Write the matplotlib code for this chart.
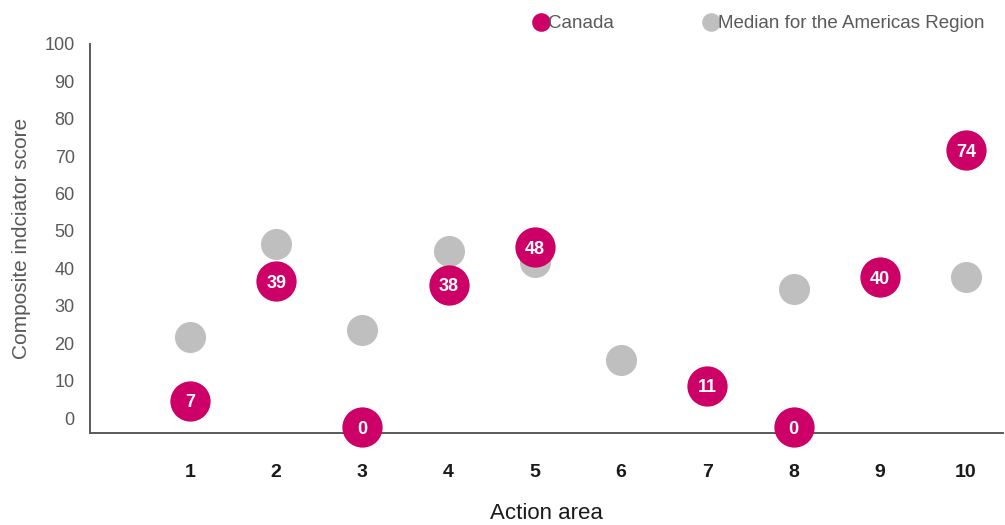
import numpy as np
import matplotlib
matplotlib.use("Agg")
import matplotlib.pyplot as plt
from matplotlib.transforms import ScaledTranslation

action_areas = [1, 2, 3, 4, 5, 6, 7, 8, 9, 10]
canada = [7, 39, 0, 38, 48, np.nan, 11, 0, 40, 74]
median_americas = [24, 49, 26, 47, 44, 18, 10, 37, 39, 40]
y_ticks = [0, 10, 20, 30, 40, 50, 60, 70, 80, 90, 100]

MAGENTA = "#CC0066"
GREY = "#BFBFBF"
TXT = "#595959"
FONT = ["Liberation Sans", "DejaVu Sans"]

fig = plt.figure(figsize=(10.05, 5.25), dpi=100)
ax = fig.add_axes([90 / 1005, (525 - 433) / 525, (1003 - 90) / 1005, (433 - 44) / 525])

ax.scatter(action_areas, median_americas, s=500, color=GREY, zorder=3, linewidths=0, clip_on=False)
ax.scatter(action_areas, canada, s=840, color=MAGENTA, zorder=4, linewidths=0, clip_on=False)
for x, v in zip(action_areas, canada):
    if not np.isnan(v):
        ax.text(x, v, f"{int(v)}", ha="center", va="center_baseline", color="white",
                fontsize=13, fontweight="bold", family=FONT, zorder=5)

ax.set_xlim(-0.16, 10.43)
ax.set_ylim(-1.6, 102.4)
ax.tick_params(axis="both", length=0)
ax.tick_params(axis="x", pad=22)
ax.tick_params(axis="y", pad=11)
ax.set_xticks(action_areas)
ax.set_xticklabels([str(a) for a in action_areas], fontsize=14, fontweight="bold",
                   family=FONT, color="#1a1a1a")
ax.set_yticks(y_ticks)
ax.set_yticklabels([str(t) for t in y_ticks], fontsize=13, family=FONT, color=TXT)
offset = ScaledTranslation(0, 9 / 100, fig.dpi_scale_trans)
for lab in ax.yaxis.get_majorticklabels():
    lab.set_transform(lab.get_transform() + offset)

for side in ["top", "right"]:
    ax.spines[side].set_visible(False)
for side in ["left", "bottom"]:
    ax.spines[side].set_color(TXT)
    ax.spines[side].set_linewidth(1.4)
    ax.spines[side].set_zorder(2)

ax.set_xlabel("Action area", fontsize=16, family=FONT, color="#1a1a1a", labelpad=16)
ax.set_ylabel("Composite indciator score", fontsize=15, family=FONT, color=TXT, labelpad=10)

# legend
fig_w, fig_h = 1005, 525
for px, label, col in [(541, "Canada", MAGENTA), (711, "Median for the Americas Region", GREY)]:
    ax.scatter([px / fig_w], [1 - 22 / fig_h], s=180, color=col, transform=fig.transFigure,
               clip_on=False, linewidths=0)
    fig.text((px + 7) / fig_w, 1 - 22 / fig_h, label, fontsize=13.5, family=FONT,
             color=TXT, va="center_baseline", ha="left")

fig.savefig("out.png", dpi=100)
